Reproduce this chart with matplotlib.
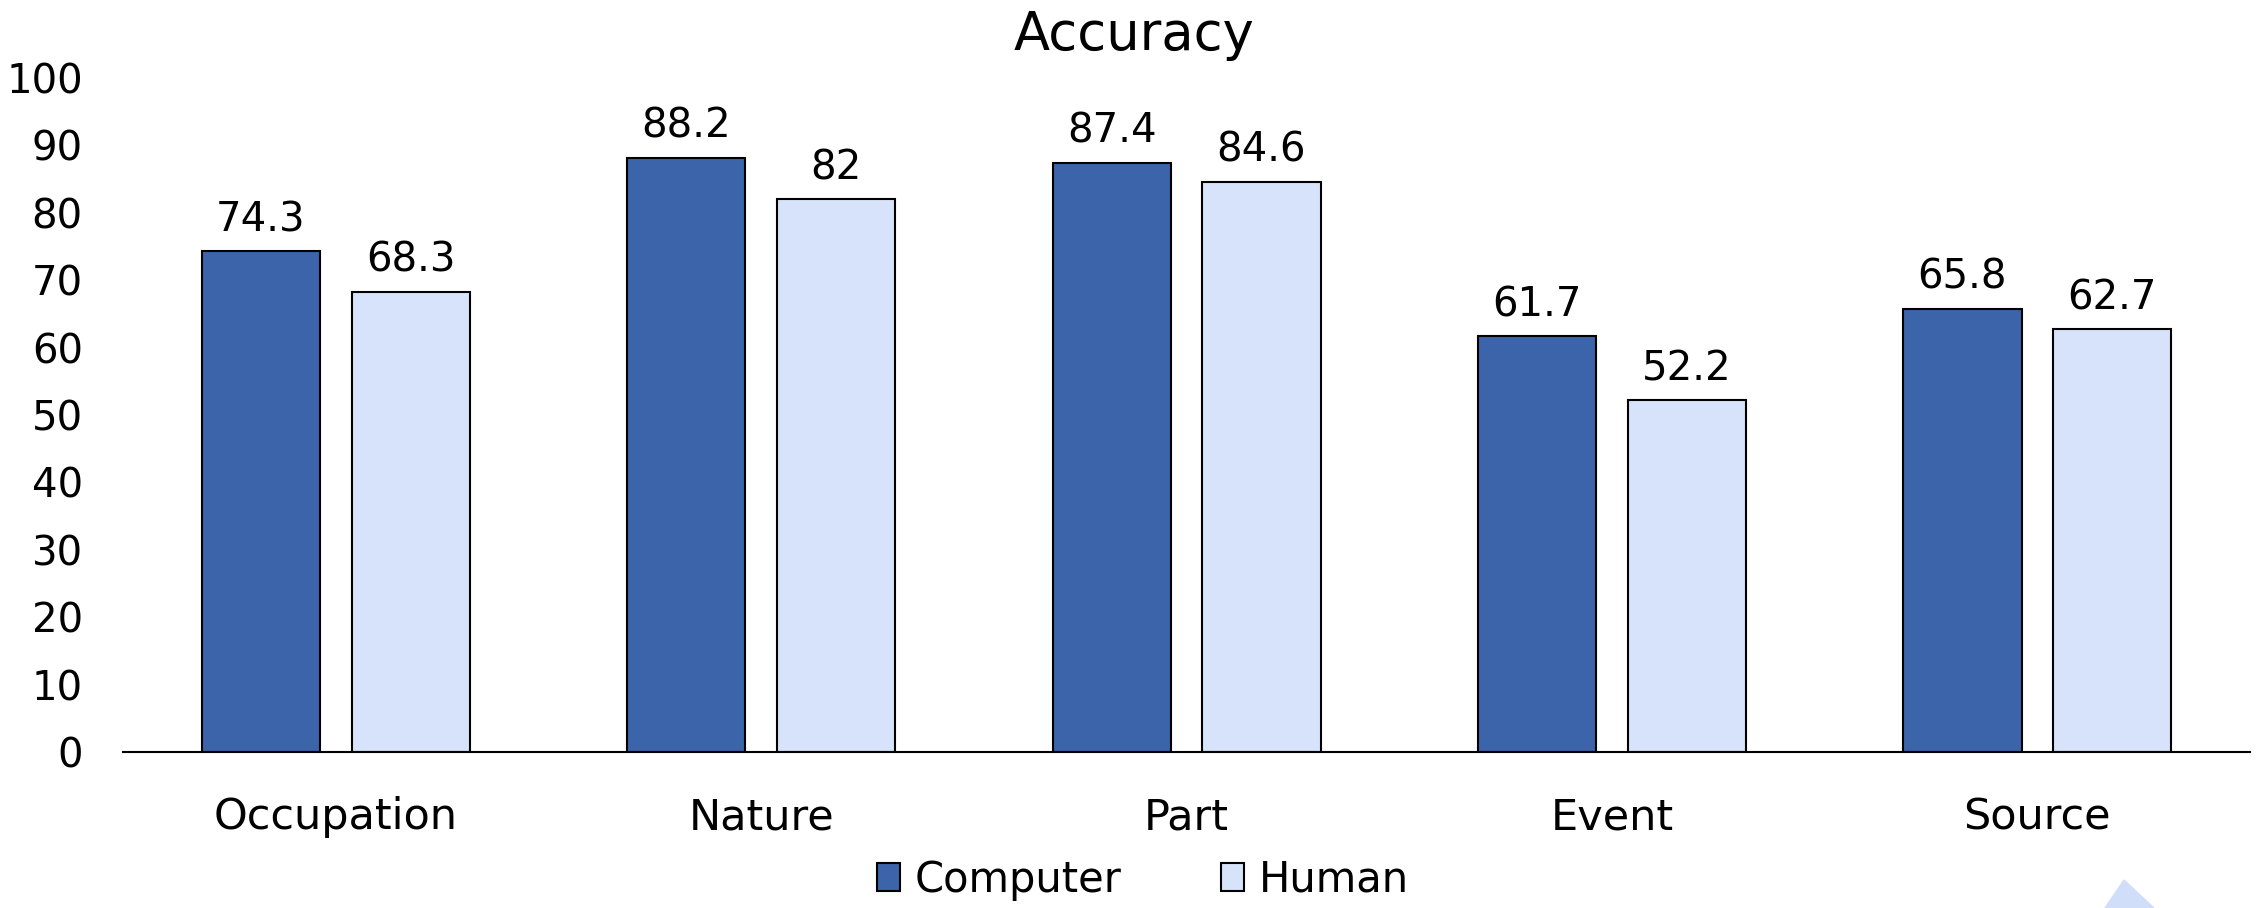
import matplotlib
matplotlib.use("Agg")
import matplotlib.pyplot as plt
import numpy as np
from matplotlib.patches import Polygon

categories = ["Occupation", "Nature", "Part", "Event", "Source"]
computer = [74.3, 88.2, 87.4, 61.7, 65.8]
human = [68.3, 82, 84.6, 52.2, 62.7]
computer_labels = ["74.3", "88.2", "87.4", "61.7", "65.8"]
human_labels = ["68.3", "82", "84.6", "52.2", "62.7"]

plt.rcParams['font.family'] = ['DejaVu Sans']

fig = plt.figure(figsize=(22.59, 9.08), dpi=100)
ax = fig.add_axes([0.0545, 0.1718, 0.9415, 0.7422])

x = np.arange(len(categories))
w = 0.278
off = 0.176
b1 = ax.bar(x - off, computer, w, color="#3C64AA", edgecolor="black", linewidth=1.5, label="Computer")
b2 = ax.bar(x + off, human, w, color="#D6E3FA", edgecolor="black", linewidth=1.5, label="Human")
ax.bar_label(b1, labels=computer_labels, padding=8, fontsize=29)
ax.bar_label(b2, labels=human_labels, padding=8, fontsize=29)

ax.set_xlim(-0.5, 4.5)
ax.set_ylim(0, 100)
ax.set_yticks(range(0, 101, 10))
ax.set_xticks(x)
ax.set_xticklabels(categories)
ax.tick_params(axis="y", length=0, pad=29, labelsize=29)
ax.tick_params(axis="x", length=0, pad=32, labelsize=31)
for s in ["top", "right", "left"]:
    ax.spines[s].set_visible(False)
ax.spines["bottom"].set_linewidth(1.5)

fig.text(0.502, 0.962, "Accuracy", ha="center", va="center", fontsize=38)

fig.legend(loc="center", bbox_to_anchor=(0.506, 0.031), ncol=2, frameon=False,
           fontsize=30, handlelength=0.55, handleheight=0.65, handletextpad=0.35,
           columnspacing=2.4, borderaxespad=0)

# small light-blue mark in the lower right corner
fig.patches.append(Polygon([[2105 / 2259, 0], [2124 / 2259, 28 / 908], [2154 / 2259, 0]],
                           closed=True, transform=fig.transFigure, color="#D0DEFA"))

fig.savefig("out.png", dpi=100)
